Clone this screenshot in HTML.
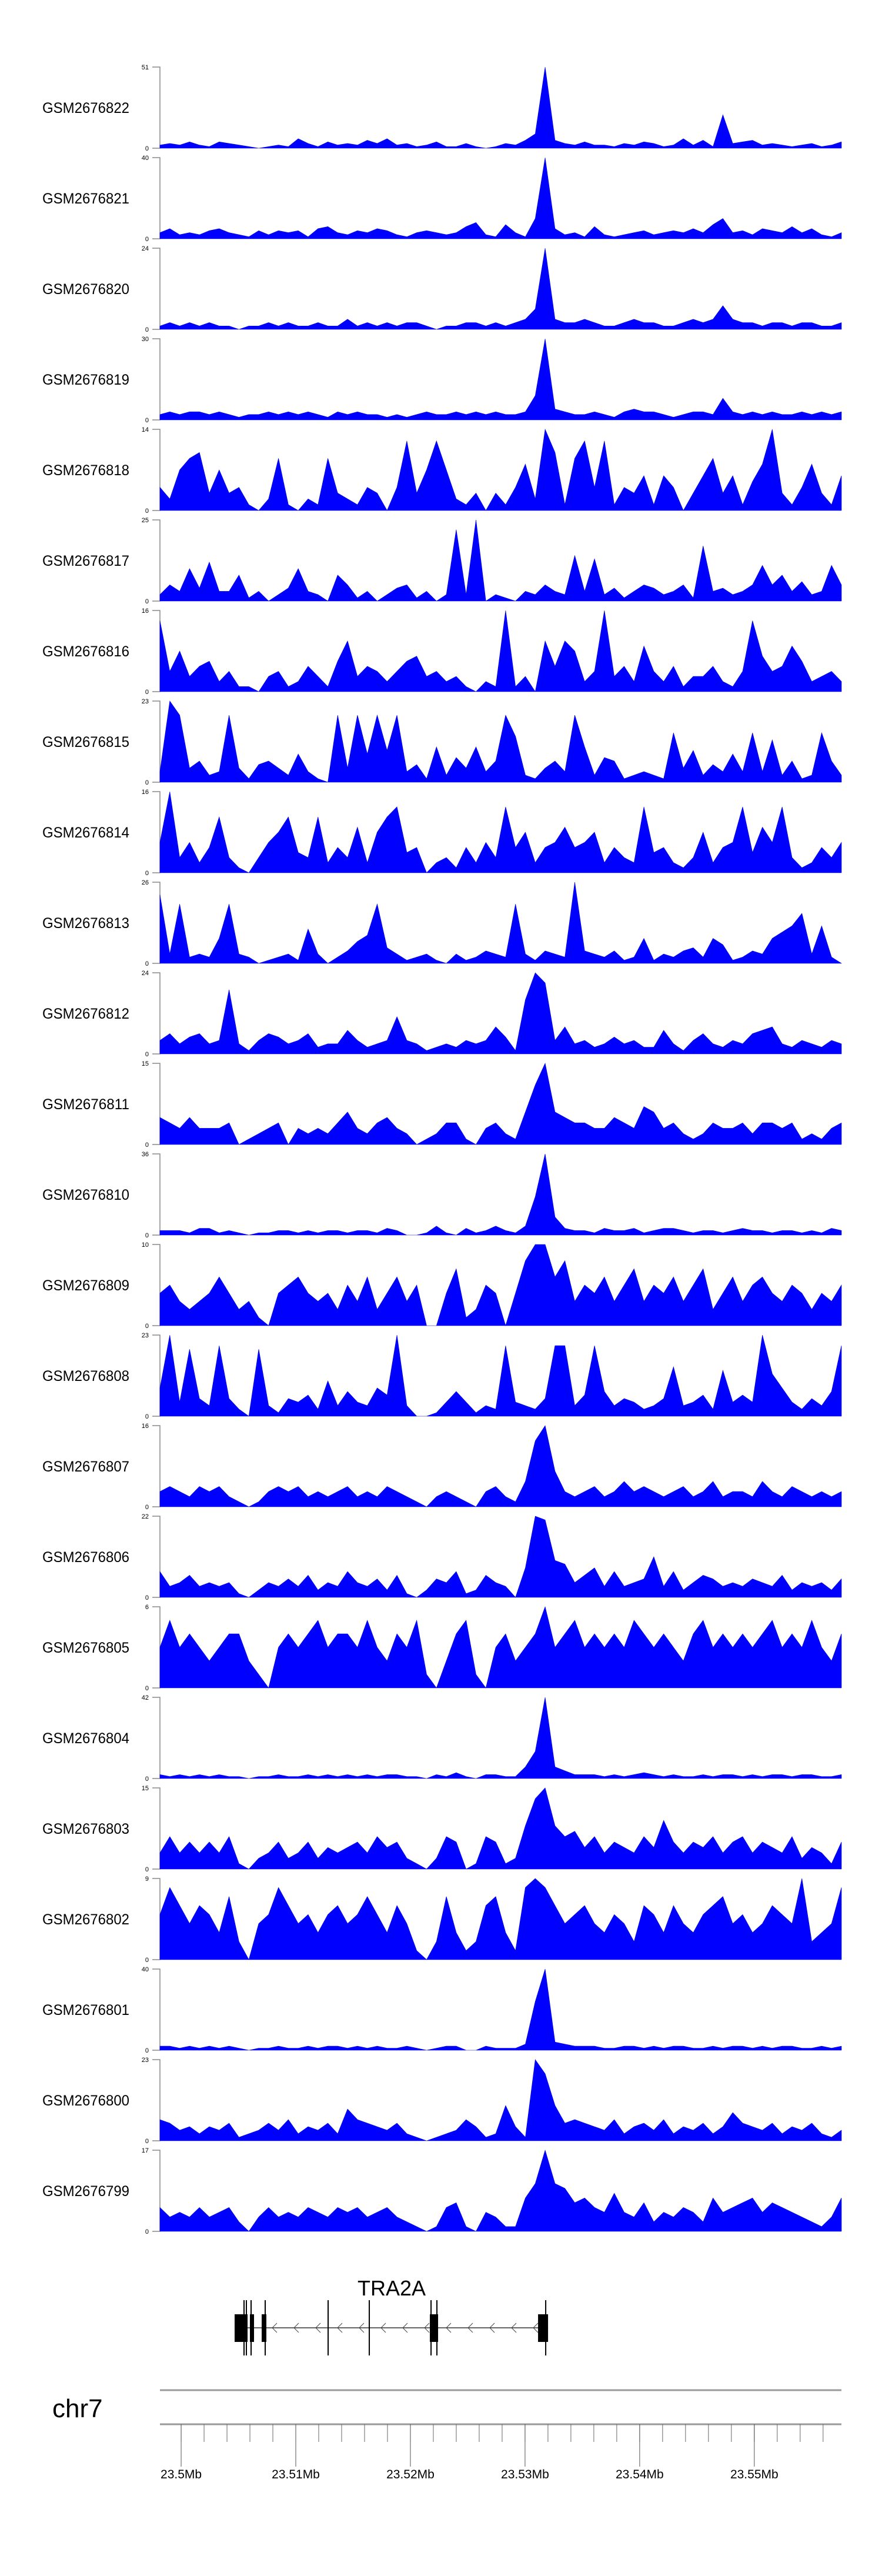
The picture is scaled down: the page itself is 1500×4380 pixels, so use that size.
<!DOCTYPE html>
<html><head><meta charset="utf-8">
<style>
html,body{margin:0;padding:0;background:#fff;}
svg{display:block;}
text{font-family:"Liberation Sans",Arial,sans-serif;}
</style></head>
<body>
<svg id="chart" width="1500" height="4380" viewBox="0 0 1500 4380" xmlns="http://www.w3.org/2000/svg">
<g id="tracks"></g>
<g id="gene"></g>
<g id="axis"></g>
</svg>
<script>
const sampleNames=["GSM2676822","GSM2676821","GSM2676820","GSM2676819","GSM2676818","GSM2676817","GSM2676816","GSM2676815","GSM2676814","GSM2676813","GSM2676812","GSM2676811","GSM2676810","GSM2676809","GSM2676808","GSM2676807","GSM2676806","GSM2676805","GSM2676804","GSM2676803","GSM2676802","GSM2676801","GSM2676800","GSM2676799"];
const yMaxLabels=[51,40,24,30,14,25,16,23,16,26,24,15,36,10,23,16,22,6,42,15,9,40,23,17];
const s822=[2,3,2,4,2,1,4,3,2,1,0,1,2,1,6,3,1,4,2,3,2,5,3,6,2,3,1,2,4,1,1,3,1,0,1,3,2,5,9,51,5,3,2,4,2,2,1,3,2,4,3,1,2,6,2,5,1,21,3,4,5,2,3,2,1,2,3,1,2,4];
const s821=[3,5,2,3,2,4,5,3,2,1,4,2,4,3,4,1,5,6,3,2,4,3,5,4,2,1,3,4,3,2,3,6,8,2,1,7,3,1,10,40,5,2,3,1,6,2,1,2,3,4,2,3,4,3,5,3,7,10,3,4,2,5,4,3,6,3,5,2,1,3];
const s820=[1,2,1,2,1,2,1,1,0,1,1,2,1,2,1,1,2,1,1,3,1,2,1,2,1,2,2,1,0,1,1,2,2,1,2,1,2,3,6,24,3,2,2,3,2,1,1,2,3,2,2,1,1,2,3,2,3,7,3,2,2,1,2,2,1,2,2,1,1,2];
const s819=[2,3,2,3,3,2,3,2,1,2,2,3,2,3,2,3,2,1,3,2,3,2,2,1,2,1,2,3,2,2,3,2,3,2,3,2,2,3,9,30,4,3,2,2,3,2,1,3,4,3,3,2,1,2,3,3,2,8,3,2,3,2,3,2,2,3,2,3,2,3];
const s818=[4,2,7,9,10,3,7,3,4,1,0,2,9,1,0,2,1,9,3,2,1,4,3,0,4,12,3,7,12,7,2,1,3,0,3,1,4,8,2,14,10,1,9,12,4,12,1,4,3,6,1,6,4,0,3,6,9,3,6,1,5,8,14,3,1,4,8,3,1,6];
const s817=[2,5,3,10,4,12,3,3,8,1,3,0,2,4,10,3,2,0,8,5,1,3,0,2,4,5,1,3,0,2,22,2,25,0,2,1,0,3,2,5,3,2,14,3,13,2,4,1,3,5,4,2,3,5,1,17,3,4,2,3,5,11,5,8,3,6,2,3,11,5];
const s816=[14,4,8,3,5,6,2,4,1,1,0,3,4,1,2,5,3,1,6,10,3,5,4,2,4,6,7,3,4,2,3,1,0,2,1,16,1,3,0,10,5,10,8,2,4,16,3,5,2,9,4,2,5,1,3,3,5,2,1,4,14,7,4,5,9,6,2,3,4,2];
const s815=[3,23,19,4,6,2,3,19,4,1,5,6,4,2,8,3,1,0,19,4,19,8,19,9,19,3,5,1,10,2,7,4,10,3,6,19,13,2,1,4,6,3,19,10,2,7,6,1,2,3,2,1,14,4,9,2,5,3,8,3,14,3,12,2,6,1,2,14,6,2];
const s814=[6,16,3,6,2,5,11,3,1,0,3,6,8,11,4,3,11,2,5,3,9,2,8,11,13,4,5,0,2,3,1,5,2,6,3,13,5,8,2,5,6,9,5,6,8,2,5,3,2,13,4,5,2,1,3,8,2,5,6,13,4,9,6,13,3,1,2,5,3,6];
const s813=[22,3,19,2,3,2,8,19,3,2,0,1,2,3,1,11,3,0,2,4,7,9,19,5,3,1,2,3,1,0,3,1,2,4,3,2,19,3,1,4,3,2,26,4,3,2,4,1,2,8,1,3,2,4,5,2,8,6,1,2,4,3,8,10,12,16,3,12,2,0];
const s812=[4,6,3,5,6,3,4,19,3,1,4,6,5,3,4,6,2,3,3,7,4,2,3,4,11,4,3,1,2,3,2,4,3,4,8,5,1,16,24,21,4,8,3,4,2,3,5,3,4,2,2,7,3,1,4,6,3,2,4,3,6,7,8,3,2,4,3,2,4,3];
const s811=[5,4,3,5,3,3,3,4,0,1,2,3,4,0,3,2,3,2,4,6,3,2,4,5,3,2,0,1,2,4,4,1,0,3,4,2,1,6,11,15,6,5,4,4,3,3,5,4,3,7,6,3,4,2,1,2,4,3,3,4,2,4,4,3,4,1,2,1,3,4];
const s810=[2,2,2,1,3,3,1,2,1,0,1,1,2,2,1,2,1,2,2,1,2,2,1,3,2,0,0,1,4,1,0,3,1,2,4,2,1,4,17,36,8,3,2,2,1,3,2,2,3,1,2,3,3,2,1,2,2,1,2,3,2,2,1,2,2,1,2,1,3,2];
const s809=[4,5,3,2,3,4,6,4,2,3,1,0,4,5,6,4,3,4,2,5,3,6,2,4,6,3,5,0,0,4,7,1,2,5,4,0,4,8,10,10,6,8,3,5,4,6,3,5,7,3,5,4,6,3,5,7,2,4,6,3,5,6,4,3,5,4,2,4,3,5];
const s808=[8,23,4,19,5,3,20,5,2,0,19,3,1,5,4,6,2,10,3,7,4,3,8,6,23,3,0,0,1,4,7,4,1,3,2,20,4,3,2,5,20,20,3,6,20,7,3,5,4,2,3,5,14,3,4,6,2,13,4,6,4,23,12,8,4,2,5,3,7,20];
const s807=[3,4,3,2,4,3,4,2,1,0,1,3,4,3,4,2,3,2,3,4,2,3,2,4,3,2,1,0,2,3,2,1,0,3,4,2,1,5,13,16,7,3,2,3,4,2,3,5,3,4,3,2,3,4,2,3,5,2,3,3,2,5,3,2,4,3,2,3,2,3];
const s806=[7,3,4,6,3,4,3,4,1,0,2,4,3,5,3,6,2,4,3,7,4,3,5,2,6,1,0,2,5,4,7,1,2,6,4,3,0,8,22,21,10,9,4,6,8,3,7,3,4,5,11,3,7,2,4,6,5,3,4,3,5,4,3,6,2,4,3,4,2,5];
const s805=[3,5,3,4,3,2,3,4,4,2,1,0,3,4,3,4,5,3,4,4,3,5,3,2,4,3,5,1,0,2,4,5,1,0,3,4,2,3,4,6,3,4,5,3,4,3,4,3,5,4,3,4,3,2,4,5,3,4,3,4,3,4,5,3,4,3,5,3,2,4];
const s804=[2,1,2,1,2,1,2,1,1,0,1,1,2,1,1,2,1,2,1,2,1,2,1,2,2,1,1,0,2,1,3,1,0,2,2,1,1,6,14,42,6,4,2,2,2,1,2,1,2,3,2,1,2,1,1,2,1,2,2,1,2,1,2,2,1,2,2,1,1,2];
const s803=[3,6,3,5,3,5,3,6,1,0,2,3,5,2,3,5,2,4,3,4,5,3,6,4,5,2,1,0,2,6,5,0,1,6,5,1,2,8,13,15,8,6,7,4,6,3,5,4,3,6,4,9,5,3,5,4,6,3,5,6,3,5,4,3,6,2,4,3,1,5];
const s802=[5,8,6,4,6,5,3,7,2,0,4,5,8,6,4,5,3,5,6,4,5,7,5,3,6,4,1,0,2,7,3,1,2,6,7,3,1,8,9,8,6,4,5,6,4,3,5,4,2,6,5,3,6,4,3,5,6,7,4,5,3,4,6,5,4,9,2,3,4,8];
const s801=[2,2,1,2,1,2,1,2,1,0,1,1,2,1,1,2,1,2,2,1,2,1,2,1,1,2,1,0,1,2,2,0,0,2,1,1,1,3,24,40,4,3,2,2,2,1,1,2,2,1,2,1,2,2,1,1,2,1,2,2,1,2,1,2,2,1,1,2,1,2];
const s800=[6,5,3,4,2,4,3,5,1,2,3,5,3,6,2,4,3,5,2,9,6,5,4,3,5,2,1,0,1,2,3,6,4,1,2,10,4,1,23,19,10,5,6,5,4,3,6,2,4,5,3,6,2,4,3,5,2,4,8,5,4,3,5,2,4,3,5,2,1,3];
const s799=[5,3,4,3,5,3,4,5,2,0,3,5,3,4,3,5,4,3,5,4,5,3,4,5,3,2,1,0,1,5,6,1,0,4,3,1,1,7,10,17,10,9,6,7,5,4,8,4,3,6,2,4,3,5,4,2,7,4,5,6,7,4,6,5,4,3,2,1,3,7];
const seriesList=[s822,s821,s820,s819,s818,s817,s816,s815,s814,s813,s812,s811,s810,s809,s808,s807,s806,s805,s804,s803,s802,s801,s800,s799];
// genome axis data (positions in Mb)
const regionStart=23.49815, regionEnd=23.55760;
const majorTicks=[23.50,23.51,23.52,23.53,23.54,23.55];
const majorTickLabels=["23.5Mb","23.51Mb","23.52Mb","23.53Mb","23.54Mb","23.55Mb"];
const minorStepMb=0.002;
// gene model (Mb)
const exonsWide=[[23.504665,23.505794],[23.505999,23.506358],[23.507025,23.507435],[23.521697,23.522415],[23.531136,23.532008]];
const exonsLines=[23.505486,23.505691,23.506102,23.507333,23.512822,23.516413,23.521800,23.522312,23.531803];
const intronRange=[23.505794,23.532008];

const NS="http://www.w3.org/2000/svg";
const X0=272,X1=1431;
function xScale(mb){return X0+(mb-regionStart)/(regionEnd-regionStart)*(X1-X0);}
function mk(tag,attrs,parent){const e=document.createElementNS(NS,tag);for(const k in attrs)e.setAttribute(k,attrs[k]);parent.appendChild(e);return e;}

const tracks=document.getElementById('tracks');
const PITCH=154,TOP0=114,H=138;
seriesList.forEach((vals,t)=>{
  const top=TOP0+t*PITCH, zero=top+H, ymax=yMaxLabels[t];
  const yS=v=>zero-Math.min(v,ymax)/ymax*H;
  const g=mk('g',{},tracks);
  
  
  const lab=mk('text',{x:72,y:top+H/2+9,'font-size':25,fill:'#000',textLength:148,lengthAdjust:'spacingAndGlyphs'},g);
  lab.textContent=sampleNames[t];
  
  
  const ax=mk('path',{d:`M259 ${top}H272V${zero}H259`,stroke:'#888',fill:'none','stroke-width':1.5},g);
  
  
  const t1=mk('text',{x:253,y:top+4,'font-size':11,'text-anchor':'end',fill:'#000'},g);
  t1.textContent=ymax;
  
  
  const t0=mk('text',{x:253,y:zero+4,'font-size':11,'text-anchor':'end',fill:'#000'},g);
  t0.textContent='0';
  
  
  const n=vals.length, step=(X1-X0)/(n-1);
  let d=`M${X0} ${zero}`;
  vals.forEach((v,i)=>{d+=`L${(X0+i*step).toFixed(1)} ${yS(v).toFixed(1)}`;});
  d+=`L${X1} ${zero}Z`;
  const a=mk('path',{d:d,fill:'#0000ff',stroke:'#0000dd','stroke-width':0.6},g);
  
  
});

// gene model
const gene=document.getElementById('gene');
const GY=3958;
const gl=mk('text',{x:666,y:3903,'font-size':36,'text-anchor':'middle',fill:'#000'},gene);
gl.textContent='TRA2A';


const il=mk('line',{x1:xScale(intronRange[0]),x2:xScale(intronRange[1]),y1:GY,y2:GY,stroke:'#333','stroke-width':1.5},gene);


for(let x=463;x<910;x+=37){
  const c=mk('path',{d:`M${x+8} ${GY-8}L${x} ${GY}L${x+8} ${GY+8}`,stroke:'#444',fill:'none','stroke-width':1},gene);
  
  
}
exonsWide.forEach(e=>{
  const r=mk('rect',{x:xScale(e[0]),y:3935,width:Math.max(2,xScale(e[1])-xScale(e[0])),height:47,fill:'#000'},gene);
  
  
});
exonsLines.forEach(m=>{
  const l=mk('line',{x1:xScale(m),x2:xScale(m),y1:3911,y2:4005,stroke:'#000','stroke-width':2},gene);
  
  
});

// genome axis
const axis=document.getElementById('axis');
const chr=mk('text',{x:89,y:4110,'font-size':44,fill:'#000'},axis);
chr.textContent='chr7';


const la=mk('line',{x1:X0,x2:X1,y1:4064,y2:4064,stroke:'#999','stroke-width':3},axis);


const lb=mk('line',{x1:X0,x2:X1,y1:4122,y2:4122,stroke:'#999','stroke-width':3},axis);


for(let m=majorTicks[0];m<=regionEnd;m+=minorStepMb){
  const x=xScale(m);
  if(x<X0||x>X1)continue;
  const l=mk('line',{x1:x,x2:x,y1:4122,y2:4152,stroke:'#666','stroke-width':1},axis);
  
  
}
majorTicks.forEach((m,i)=>{
  const x=xScale(m);
  const l=mk('line',{x1:x,x2:x,y1:4122,y2:4194,stroke:'#555','stroke-width':1},axis);
  
  
  const t=mk('text',{x:x,y:4214,'font-size':21,'text-anchor':'middle',fill:'#000'},axis);
  t.textContent=majorTickLabels[i];
  
  
});
</script>
</body></html>
